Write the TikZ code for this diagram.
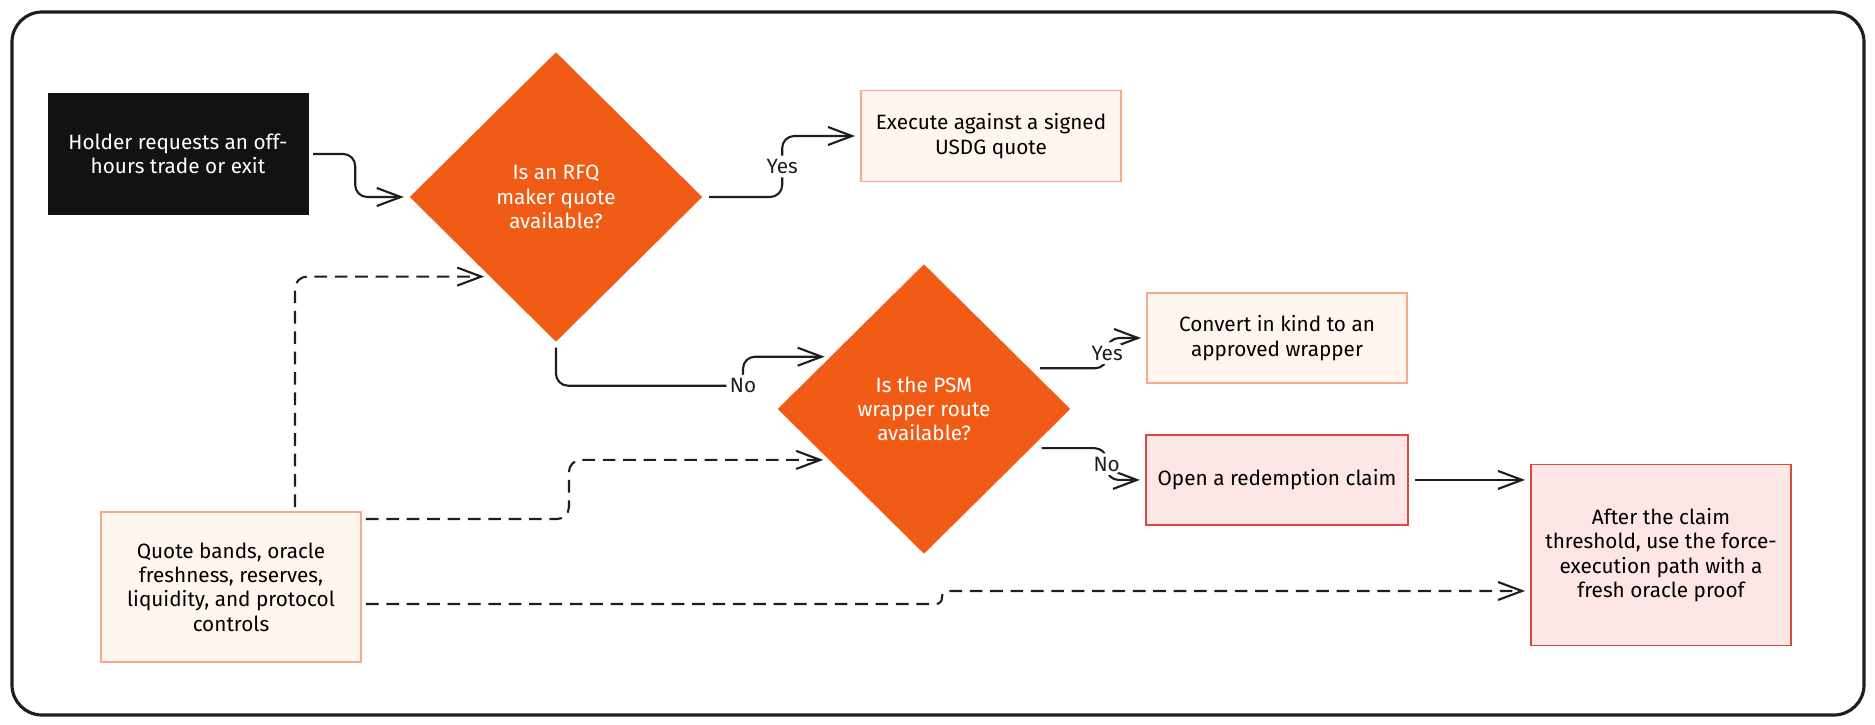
\documentclass[tikz,border=0pt]{standalone}
\usepackage{fontspec}
\setmainfont{Fira Sans}
\usetikzlibrary{shapes.geometric, arrows.meta, positioning, calc}
\definecolor{qorange}{RGB}{240,92,22}
\definecolor{qblack}{RGB}{18,18,18}
\definecolor{qink}{RGB}{30,30,30}
\definecolor{peachfill}{RGB}{255,246,240}
\definecolor{peachline}{RGB}{245,170,138}
\definecolor{pinkfill}{RGB}{253,230,229}
\definecolor{redline}{RGB}{214,75,64}

\begin{document}
\begin{tikzpicture}[
  font=\fontsize{5.9}{6.9}\selectfont,
  decision/.style={diamond, fill=qorange, text=white, align=center, inner sep=0pt, minimum width=2.93cm, minimum height=2.9cm},
  action/.style={rectangle, draw=peachline, fill=peachfill, line width=0.55pt, align=center, minimum width=2.6cm, minimum height=0.9cm},
  claimbox/.style={action, draw=redline, fill=pinkfill},
  arr/.style={-{Straight Barb[length=2.4mm, width=1.8mm]}, draw=qink, line width=0.6pt, rounded corners=1.2mm, shorten >=0.5mm},
  ctrl/.style={arr, dash pattern=on 3.6pt off 2.2pt, shorten <=0.4mm},
  lbl/.style={fill=white, text=qink, inner sep=1pt}
]
\useasboundingbox (0,0) rectangle (18.75,-7.24);
\draw[qink, line width=0.9pt, rounded corners=0.3cm] (0.12,-0.12) rectangle (18.64,-7.15);

\node[rectangle, fill=qblack, text=white, align=center, minimum width=2.61cm, minimum height=1.22cm] (holder) at (1.78,-1.54) {Holder requests an off-\\hours trade or exit};
\node[decision] (rfq) at (5.56,-1.97) {Is an RFQ\\maker quote\\available?};
\node[action, minimum height=0.91cm] (signed) at (9.91,-1.36) {Execute against a signed\\USDG quote};
\node[decision] (psm) at (9.24,-4.09) {Is the PSM\\wrapper route\\available?};
\node[action] (wrap) at (12.77,-3.38) {Convert in kind to an\\approved wrapper};
\node[claimbox, below=0.5cm of wrap] (claim) {Open a redemption claim};
\node[claimbox, minimum height=1.81cm] (force) at (16.61,-5.55) {After the claim\\threshold, use the force-\\execution path with a\\fresh oracle proof};
\node[action, minimum height=1.5cm] (controls) at (2.31,-5.87) {Quote bands, oracle\\freshness, reserves,\\liquidity, and protocol\\controls};

\draw[arr, shorten <=0.4mm] (holder.east) -- ++(0.46,0) |- (rfq.west);
\draw[arr, shorten <=0.6mm] (rfq.east) -- ++(0.79,0) |- node[lbl, pos=0.25]{Yes} (signed.west);
\draw[arr, shorten <=0.5mm] (rfq.south) -- ++(0,-0.43) -- ++(1.87,0) node[lbl]{No} |- (psm.151);
\draw[arr, shorten <=1mm] (psm.21) -- ++(0.77,0) |- node[lbl, pos=0.25]{Yes} (wrap.west);
\draw[arr, shorten <=1mm] (psm.-20) -- ++(0.75,0) |- node[lbl, pos=0.25]{No} (claim.west);
\draw[arr, shorten <=0.6mm] (claim.east) -- (claim.east -| force.west);

\draw[ctrl] ([xshift=6.4mm]controls.north) |- (rfq.230);
\draw[ctrl] ([yshift=-0.8mm]controls.north east) -- ++(2.07,0) |- (psm.208);
\draw[ctrl, rounded corners=0.6mm] ([yshift=-1.7mm]controls.east) -- ++(5.8,0) |- ([yshift=-3.6mm]force.west);
\end{tikzpicture}
\end{document}
